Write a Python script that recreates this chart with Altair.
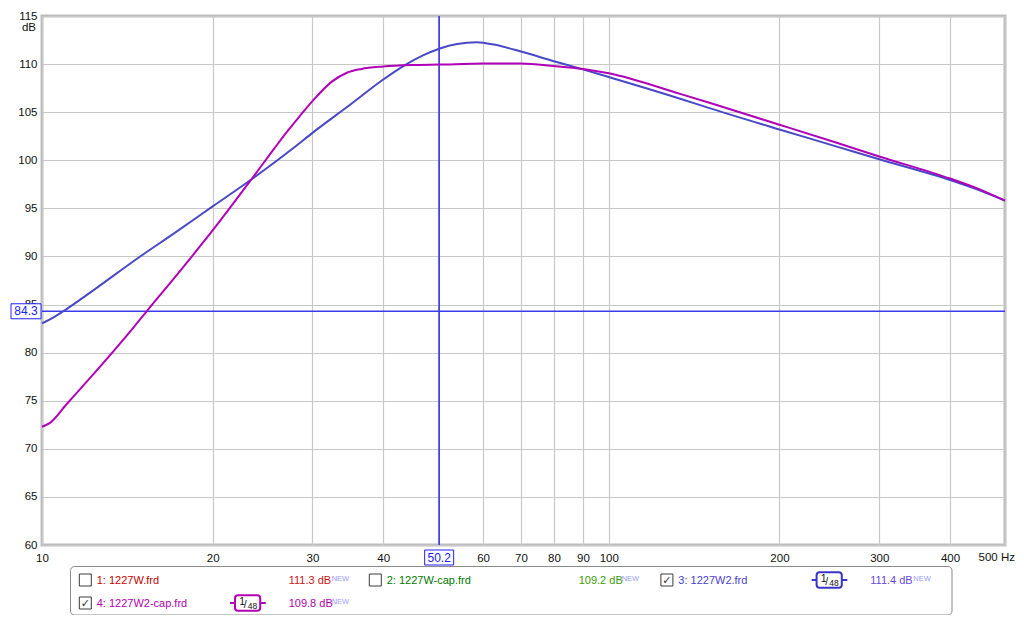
import altair as alt
import pandas as pd

# ---------------- data ----------------
BLUE_HZ = [10.0, 10.5, 11.0, 12.0, 14.9, 17.0, 20.0, 23.4, 27.8, 30.0, 35.0, 40.0,
           43.7, 47.0, 50.2, 54.0, 58.5, 63.0, 70.0, 80.0, 90.0, 100.0, 133.6, 150.0,
           200.0, 250.0, 300.0, 400.0, 450.0, 500.0]
BLUE_DB = [83.05, 83.7, 84.45, 86.0, 90.0, 92.3, 95.2, 98.0, 101.3, 102.85, 105.8, 108.4,
           109.9, 110.9, 111.6, 112.1, 112.27, 112.0, 111.3, 110.3, 109.45, 108.65, 106.4, 105.45,
           103.2, 101.5, 100.1, 97.95, 96.9, 95.8]
MAG_HZ = [10.0, 10.33, 11.0, 12.07, 14.4, 15.3, 17.5, 20.0, 23.4, 25.6, 27.0, 28.5,
          30.0, 32.5, 34.5, 36.6, 40.0, 45.0, 50.2, 60.0, 70.0, 80.0, 90.0, 100.0,
          133.6, 150.0, 200.0, 250.0, 300.0, 400.0, 450.0, 500.0]
MAG_DB = [72.3, 72.7, 74.5, 77.16, 82.4, 84.3, 88.45, 92.7, 98.0, 101.1, 102.9, 104.6,
          106.15, 108.2, 109.1, 109.5, 109.75, 109.9, 109.95, 110.05, 110.05, 109.8, 109.5, 109.04,
          106.9, 106.0, 103.7, 101.9, 100.4, 98.1, 97.0, 95.8]

X_TICKS = [10, 20, 30, 40, 50, 60, 70, 80, 90, 100, 200, 300, 400, 500]
X_HIDDEN_LABELS = [50, 500]   # 50 is covered by the cursor box, 500 drawn as "500 Hz"
X_LAST_LABEL = "500 Hz"
Y_TICKS = [60, 65, 70, 75, 80, 85, 90, 95, 100, 105, 110, 115]
CURSOR_HZ = [50.2]
CURSOR_DB = [84.3]

LEGEND_NAMES = ["1: 1227W.frd", "2: 1227W-cap.frd", "3: 1227W2.frd", "4: 1227W2-cap.frd"]
LEGEND_LEVELS = ["111.3 dB", "109.2 dB", "111.4 dB", "109.8 dB"]
LEGEND_CHECKED = [False, False, True, True]
LEGEND_SMOOTH = [False, False, True, True]

# ---------------- styles / layout ----------------
FONT = "Liberation Sans"
BLUE = "#4848c8"
MAGENTA = "#b000b8"
CURSOR = "#3a3aee"
NAME_COLORS = ["#c40000", "#007a00", "#4a3ed0", "#b000b0"]
LEVEL_COLORS = ["#cc1010", "#3c9a00", "#6a44e0", "#b000b0"]
NEW_COLOR = "#9c9cff"

W, H = 963, 529
PAD = {"left": 34, "top": 8, "right": 11, "bottom": 70}
# legend layout (plot-area coordinates)
NAME_X = [54.7, 344.7, 636.3, 54.7]
ROW_Y = [564, 564, 564, 587]

curves = pd.DataFrame({"hz": BLUE_HZ, "db": BLUE_DB})
curves2 = pd.DataFrame({"hz": MAG_HZ, "db": MAG_DB})
cur = pd.DataFrame({"hz": CURSOR_HZ, "db": CURSOR_DB,
                    "hzt": [f"{v:.1f}" for v in CURSOR_HZ],
                    "dbt": [f"{v:.1f}" for v in CURSOR_DB]})
last = pd.DataFrame({"hz": [X_TICKS[-1]], "t": [X_LAST_LABEL]})
one = pd.DataFrame({"a": [0]})

xscale = alt.Scale(type="log", domain=[10, 500], nice=False)
yscale = alt.Scale(domain=[60, 115], nice=False, zero=False)

hidden = " || ".join(f"datum.value == {v}" for v in X_HIDDEN_LABELS)
xaxis = alt.Axis(values=X_TICKS, format="d", title=None, grid=True, ticks=False, domain=False,
                 labelPadding=7, labelFont=FONT, labelFontSize=11.5, labelColor="#111",
                 labelExpr=f"({hidden}) ? '' : datum.label",
                 gridColor="#c8c8c8", gridWidth=1.2, labelFlush=False, labelOverlap=False)
yaxis = alt.Axis(values=Y_TICKS, format="d", title=None, grid=True, ticks=False, domain=False,
                 labelPadding=5, labelFont=FONT, labelFontSize=11.5, labelColor="#111",
                 gridColor="#c8c8c8", gridWidth=1.2, labelFlush=False, labelOverlap=False)

X = lambda: alt.X("hz:Q", scale=xscale, axis=xaxis)
Y = lambda: alt.Y("db:Q", scale=yscale, axis=yaxis)

blue_line = alt.Chart(curves).mark_line(color=BLUE, strokeWidth=2, interpolate="monotone").encode(
    x=X(), y=Y())
mag_line = alt.Chart(curves2).mark_line(color=MAGENTA, strokeWidth=2, interpolate="monotone").encode(
    x=X(), y=Y())

vrule = alt.Chart(cur).mark_rule(color=CURSOR, strokeWidth=1.6).encode(x=X())
hrule = alt.Chart(cur).mark_rule(color=CURSOR, strokeWidth=1.4).encode(y=Y())

xbox = alt.Chart(cur).mark_rect(fill="white", stroke="#2020ff", strokeWidth=1,
                                xOffset=-14.5, x2Offset=14.5).encode(
    x=X(), x2=alt.X2("hz"), y=alt.value(534), y2=alt.value(549))
xbox_t = alt.Chart(cur).mark_text(font=FONT, fontSize=12, color="#2020ff", baseline="middle",
                                  align="center").encode(
    x=X(), y=alt.value(541.5), text="hzt:N")
ybox = alt.Chart(cur).mark_rect(fill="white", stroke="#2020ff", strokeWidth=1,
                                yOffset=-7.5, y2Offset=7.5).encode(
    y=Y(), y2=alt.Y2("db"), x=alt.value(-31), x2=alt.value(-1))
ybox_t = alt.Chart(cur).mark_text(font=FONT, fontSize=12, color="#2020ff", baseline="middle",
                                  align="center").encode(
    y=Y(), x=alt.value(-16), text="dbt:N")

last_t = alt.Chart(last).mark_text(font=FONT, fontSize=11.5, color="#111", align="right",
                                   baseline="top", dx=10).encode(
    x=X(), y=alt.value(H + 7), text="t:N")

unit_t = alt.Chart(one).mark_text(font=FONT, fontSize=11.5, color="#111", align="right",
                                  baseline="alphabetic").encode(
    x=alt.value(-6), y=alt.value(15), text=alt.value("dB"))

layers = [vrule, hrule, blue_line, mag_line, xbox, xbox_t, ybox, ybox_t, last_t, unit_t]


def rect(x1, x2, y1, y2, stroke, sw=1, radius=0):
    return alt.Chart(one).mark_rect(fill="white", stroke=stroke, strokeWidth=sw,
                                    cornerRadius=radius).encode(
        x=alt.value(x1), x2=alt.value(x2), y=alt.value(y1), y2=alt.value(y2))


def text(s, x, y, color, size=11, font=FONT, align="left", baseline="alphabetic"):
    return alt.Chart(one).mark_text(font=font, fontSize=size, color=color, align=align,
                                    baseline=baseline).encode(
        x=alt.value(x), y=alt.value(y), text=alt.value(s))


def hline(x1, x2, y, color, sw=2):
    return alt.Chart(one).mark_rule(color=color, strokeWidth=sw).encode(
        x=alt.value(x1), x2=alt.value(x2), y=alt.value(y))


# legend frame
layers.append(rect(28.5, 910, 550.5, 599, "#8a8a8a", 1, 4))
for i, name in enumerate(LEGEND_NAMES):
    nx, ry = NAME_X[i], ROW_Y[i]
    # checkbox
    layers.append(rect(nx - 17.4, nx - 5.4, ry - 6, ry + 6, "#3a3a3a", 1))
    if LEGEND_CHECKED[i]:
        layers.append(text("\u2713", nx - 11.4, ry + 0.5, "#333333", 11, "DejaVu Sans",
                           "center", "middle"))
    layers.append(text(name, nx, ry + 4, NAME_COLORS[i]))
    if LEGEND_SMOOTH[i]:
        col = NAME_COLORS[i] if i != 2 else "#3c34c8"
        layers.append(hline(nx + 133.4, nx + 169, ry, col, 2))
        layers.append(rect(nx + 138.3, nx + 163.5, ry - 7.7, ry + 7.7, col, 2, 3))
        layers.append(text("1", nx + 142.5, ry + 1.5, "#111", 10.5))
        layers.append(text("/", nx + 147.0, ry + 5, "#111", 10.5))
        layers.append(text("48", nx + 151.0, ry + 6, "#111", 8.5))
    lx = nx + 192
    layers.append(text(LEGEND_LEVELS[i], lx, ry + 4, LEVEL_COLORS[i]))
    layers.append(text("NEW", lx + 43, ry + 0.7, NEW_COLOR, 7.5))

chart = alt.layer(*layers).properties(
    width=W, height=H,
    autosize=alt.AutoSizeParams(type="none"),
    padding=PAD,
).configure(background="white").configure_view(stroke="#bdbdbd", strokeWidth=3)

chart.save("out.html", embed_options={"renderer": "svg", "actions": False})
